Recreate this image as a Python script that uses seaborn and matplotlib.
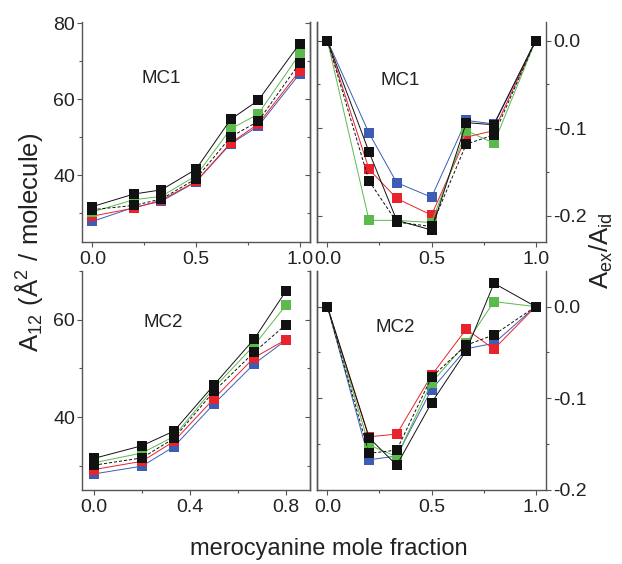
import matplotlib
matplotlib.use("Agg")
import matplotlib.pyplot as plt
from matplotlib.ticker import MultipleLocator, FuncFormatter
import pandas as pd
import seaborn as sns

sns.set_style("ticks")
plt.rcParams["font.family"] = ["Liberation Sans", "DejaVu Sans"]
plt.rcParams["axes.unicode_minus"] = False
plt.rcParams["mathtext.default"] = "regular"

# ---- data -------------------------------------------------------------
series = ["blue", "red", "green", "black_dashed", "black"]

x_full = [0.0, 0.2, 0.333, 0.5, 0.667, 0.8, 1.0]
x_mc2_area = [0.0, 0.2, 0.333, 0.5, 0.667, 0.8]

# MC1 mean molecular area (A^2 / molecule)
mc1_area_black = [31.8, 35.1, 36.2, 41.6, 54.7, 59.7, 74.6]
mc1_area_green = [30.4, 33.6, 34.5, 39.9, 52.2, 56.1, 71.9]
mc1_area_black_dashed = [31.0, 32.1, 33.8, 39.1, 50.1, 54.2, 69.5]
mc1_area_red = [29.3, 31.4, 33.5, 38.4, 48.5, 53.5, 67.5]
mc1_area_blue = [27.9, 31.6, 33.2, 38.3, 48.3, 52.9, 66.7]

# MC1 excess area ratio
mc1_ex_black = [0.0, -0.127, -0.205, -0.216, -0.0935, -0.096, 0.0]
mc1_ex_green = [0.0, -0.205, -0.205, -0.2075, -0.1026, -0.117, 0.0]
mc1_ex_black_dashed = [0.0, -0.160, -0.207, -0.212, -0.118, -0.1075, 0.0]
mc1_ex_red = [0.0, -0.1467, -0.180, -0.199, -0.110, -0.1026, 0.0]
mc1_ex_blue = [0.0, -0.1056, -0.162, -0.1786, -0.091, -0.095, 0.0]

# MC2 mean molecular area (A^2 / molecule)
mc2_area_black = [31.5, 34.1, 37.1, 46.6, 56.0, 65.9]
mc2_area_green = [30.6, 32.6, 36.0, 46.0, 54.7, 63.0]
mc2_area_black_dashed = [30.1, 31.6, 35.6, 45.3, 53.3, 59.0]
mc2_area_red = [29.2, 30.9, 35.0, 43.8, 52.2, 55.9]
mc2_area_blue = [28.3, 29.9, 33.9, 42.7, 50.9, 55.8]

# MC2 excess area ratio
mc2_ex_black = [0.0, -0.143, -0.173, -0.105, -0.048, 0.0254, 0.0]
mc2_ex_green = [0.0, -0.151, -0.1637, -0.083, -0.0399, 0.0054, 0.0]
mc2_ex_black_dashed = [0.0, -0.160, -0.1565, -0.077, -0.042, -0.0308, 0.0]
mc2_ex_red = [0.0, -0.142, -0.139, -0.075, -0.0246, -0.0464, 0.0]
mc2_ex_blue = [0.0, -0.167, -0.163, -0.0906, -0.046, -0.040, 0.0]

panel_titles = ["MC1", "MC1", "MC2", "MC2"]
xlabel_text = "merocyanine mole fraction"
ylabel_left = r"$A_{12}\ (Å^2\ /\ molecule)$"
ylabel_right = r"$A_{ex}/A_{id}$"

# ---- styling ----------------------------------------------------------
palette = {"blue": "#3d5db4", "red": "#e8232b", "green": "#5cba4c",
           "black_dashed": "#111111", "black": "#111111"}
dash_map = {"blue": "", "red": "", "green": "", "black_dashed": (3.2, 2.0),
            "black": ""}
marker_map = {k: "s" for k in series}
spine_col = "#555555"
text_col = "#222222"


def frame(xs, cols):
    rows = []
    for name, ys in zip(series, cols):
        for xv, yv in zip(xs, ys):
            rows.append({"x": xv, "y": yv, "series": name})
    return pd.DataFrame(rows)


fig = plt.figure(figsize=(6.22, 5.64), dpi=100)
W, H = 622, 564


def add_ax(x0, y0, x1, y1):
    return fig.add_axes([x0 / W, 1 - y1 / H, (x1 - x0) / W, (y1 - y0) / H])


ax_tl = add_ax(82, 22, 310, 242)
ax_tr = add_ax(317, 22, 546, 242)
ax_bl = add_ax(82, 271, 310, 490)
ax_br = add_ax(317, 271, 546, 490)

panels = [
    (ax_tl, frame(x_full, [mc1_area_blue, mc1_area_red, mc1_area_green,
                           mc1_area_black_dashed, mc1_area_black])),
    (ax_tr, frame(x_full, [mc1_ex_blue, mc1_ex_red, mc1_ex_green,
                           mc1_ex_black_dashed, mc1_ex_black])),
    (ax_bl, frame(x_mc2_area, [mc2_area_blue, mc2_area_red, mc2_area_green,
                               mc2_area_black_dashed, mc2_area_black])),
    (ax_br, frame(x_full, [mc2_ex_blue, mc2_ex_red, mc2_ex_green,
                           mc2_ex_black_dashed, mc2_ex_black])),
]

for ax, df in panels:
    sns.lineplot(data=df, x="x", y="y", hue="series", style="series",
                 hue_order=series, style_order=series, palette=palette,
                 dashes=dash_map, markers=marker_map, markersize=6.6,
                 markeredgewidth=0, linewidth=0.7, legend=False, ax=ax,
                 sort=False)
    ax.set_xlabel("")
    ax.set_ylabel("")
    ax.spines["top"].set_visible(False)
    for sp in ax.spines.values():
        sp.set_color(spine_col)
        sp.set_linewidth(1.0)

fmt1 = FuncFormatter(lambda v, p: f"{(0.0 if abs(v) < 1e-9 else v):.1f}")
fmt0 = FuncFormatter(lambda v, p: f"{v:.0f}")

# limits & locators
ax_tl.set_xlim(-0.05, 1.05)
ax_tr.set_xlim(-0.05, 1.05)
ax_br.set_xlim(-0.05, 1.05)
ax_bl.set_xlim(-0.05, 0.9)
ax_tl.set_ylim(22.5, 80.3)
ax_bl.set_ylim(25.0, 70.0)
ax_tr.set_ylim(-0.2297, 0.0213)
ax_br.set_ylim(-0.2, 0.0388)

for ax in (ax_tl, ax_tr, ax_br):
    ax.xaxis.set_major_locator(MultipleLocator(0.5))
    ax.xaxis.set_minor_locator(MultipleLocator(0.25))
ax_bl.xaxis.set_major_locator(MultipleLocator(0.4))
ax_bl.xaxis.set_minor_locator(MultipleLocator(0.2))
for ax in (ax_tl, ax_tr, ax_bl, ax_br):
    ax.xaxis.set_major_formatter(fmt1)

for ax in (ax_tl, ax_bl):
    ax.yaxis.set_major_locator(MultipleLocator(20))
    ax.yaxis.set_minor_locator(MultipleLocator(10))
    ax.yaxis.set_major_formatter(fmt0)
for ax in (ax_tr, ax_br):
    ax.yaxis.set_major_locator(MultipleLocator(0.1))
    ax.yaxis.set_minor_locator(MultipleLocator(0.05))
    ax.yaxis.set_major_formatter(fmt1)
    ax.yaxis.tick_right()

tick_font = 14
for ax in (ax_tl, ax_tr, ax_bl, ax_br):
    ax.tick_params(which="both", direction="out", top=False,
                   color=spine_col, width=0.8, labelsize=tick_font,
                   labelcolor=text_col)
    ax.tick_params(which="major", length=3.5)
    ax.tick_params(which="minor", length=2.5)
    ax.tick_params(axis="x", pad=3)
    ax.tick_params(axis="y", pad=1.5)
for ax in (ax_tl, ax_bl):
    ax.tick_params(axis="y", which="both", right=False)
for ax in (ax_tr, ax_br):
    ax.tick_params(axis="y", which="both", left=False)

# mirrored y ticks pointing into the plot on the unlabelled side
for ax, side in ((ax_tl, "right"), (ax_bl, "right"),
                 (ax_tr, "left"), (ax_br, "left")):
    sec = ax.secondary_yaxis(side)
    sec.yaxis.set_major_locator(ax.yaxis.get_major_locator())
    sec.yaxis.set_minor_locator(ax.yaxis.get_minor_locator())
    sec.tick_params(which="both", direction="in", color=spine_col,
                    width=0.8, labelleft=False, labelright=False)
    sec.tick_params(which="major", length=3.5)
    sec.tick_params(which="minor", length=2.5)
    for sp in sec.spines.values():
        sp.set_color(spine_col)
        sp.set_linewidth(1.0)

# panel captions
for ax, title, pos in zip((ax_tl, ax_tr, ax_bl, ax_br), panel_titles,
                          [(0.346, 0.741), (0.365, 0.736),
                           (0.355, 0.764), (0.341, 0.740)]):
    ax.text(pos[0], pos[1], title, transform=ax.transAxes, ha="center",
            va="center", fontsize=13.5, color=text_col)

fig.text(29 / W, 1 - 242 / H, ylabel_left, rotation=90, ha="center",
         va="center", fontsize=18.5, color=text_col)
fig.text(601 / W, 1 - 251 / H, ylabel_right, rotation=90, ha="center",
         va="center", fontsize=18.5, color=text_col)
fig.text(329 / W, 1 - 549 / H, xlabel_text, ha="center", va="center",
         fontsize=17, color=text_col)

fig.savefig("out.png", dpi=100, facecolor="white")
